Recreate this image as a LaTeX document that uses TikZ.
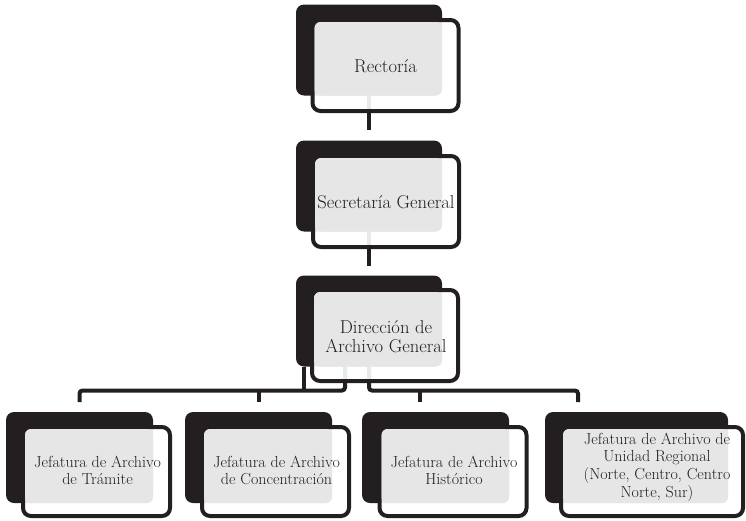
\documentclass[tikz,border=0pt]{standalone}
\usetikzlibrary{calc}
\definecolor{dk}{HTML}{231F20}
\definecolor{lg}{HTML}{E6E6E6}
\pgfdeclarelayer{bg}
\pgfsetlayers{bg,main}
\begin{document}
\begin{tikzpicture}[x=1pt,y=-1pt,
  back/.style={fill=dk, rounded corners=8pt, draw=none, outer sep=0pt, inner sep=0pt},
  front/.style={draw=dk, line width=4pt, fill=white, fill opacity=0.9, rounded corners=8pt, outer sep=0pt, inner sep=0pt},
  innerbox/.style={fill=lg, rounded corners=6pt},
  lbl/.style={text=dk, align=center, inner sep=0pt},
  bigtxt/.style={lbl, font=\fontsize{18.6}{19}\selectfont},
  smalltxt/.style={lbl, font=\fontsize{16}{17.6}\selectfont},
  conn/.style={draw=dk, line width=4pt, rounded corners=3pt},
  topB/.style={back, minimum width=146pt, minimum height=91pt},
  topF/.style={front, minimum width=146pt, minimum height=91pt},
  kidB/.style={back, minimum width=147pt, minimum height=91pt},
  kidF/.style={front, minimum width=147pt, minimum height=89pt}]
\useasboundingbox (0,0) rectangle (746,520);

% Rectoria
\node[topB] (rB) at (369,50) {};
\node[topF] (rF) at (385.5,65.5) {};
\fill[innerbox] ($(rF.north west)+(2,2)$) rectangle (rB.south east);
\node[bigtxt] (r) at ($(rF.center)+(0,1)$) {Rectoría};

% Secretaria
\node[topB] (sB) at (369,186) {};
\node[topF] (sF) at (386,201.5) {};
\fill[innerbox] ($(sF.north west)+(2,2)$) rectangle (sB.south east);
\node[bigtxt] (s) at ($(sF.center)+(0,1)$) {Secretaría General};

% Direccion
\node[topB] (dB) at (369,321) {};
\node[topF] (dF) at (385,335.5) {};
\fill[innerbox] ($(dF.north west)+(2,2)$) rectangle (dB.south east);
\node[bigtxt] (d) at ($(dF.center)+(1,1)$) {Dirección de\\Archivo General};

% Children
\node[kidB] (c1B) at (79.5,457.5) {};
\node[kidF] (c1F) at (96.5,471.5) {};
\fill[innerbox] ($(c1F.north west)+(2,2)$) rectangle (c1B.south east);
\node[smalltxt] (c1) at ($(c1F.center)+(1,-1)$) {Jefatura de Archivo\\de Trámite};

\node[kidB] (c2B) at (258.5,457.5) {};
\node[kidF] (c2F) at (275.5,471.5) {};
\fill[innerbox] ($(c2F.north west)+(2,2)$) rectangle (c2B.south east);
\node[smalltxt] (c2) at ($(c2F.center)+(1,-1)$) {Jefatura de Archivo\\de Concentración};

\node[kidB] (c3B) at (435.5,457.5) {};
\node[kidF] (c3F) at (453,471.5) {};
\fill[innerbox] ($(c3F.north west)+(2,2)$) rectangle (c3B.south east);
\node[smalltxt] (c3) at ($(c3F.center)+(1,-1)$) {Jefatura de Archivo\\Histórico};

\node[back, minimum width=183pt, minimum height=91pt] (c4B) at (636.5,457.5) {};
\node[front, minimum width=182pt, minimum height=89pt] (c4F) at (652,471.5) {};
\fill[innerbox] ($(c4F.north west)+(2,2)$) rectangle (c4B.south east);
\node[smalltxt] (c4) at (657,467) {Jefatura de Archivo de\\Unidad Regional\\(Norte, Centro, Centro\\Norte, Sur)};

% Connectors
\coordinate (busY) at (0,390.5);
\coordinate (t1) at ($(c1B.north)+(0,-10)$);
\coordinate (t2) at ($(c2B.north)+(0,-10)$);
\coordinate (t3) at (420,402);
\coordinate (t4) at (578,402);
\coordinate (ja) at (345,390.5);
\coordinate (jaTop) at (345,367);
\coordinate (jb) at (304,367);
\begin{pgfonlayer}{bg}
\draw[conn] (rB.south) -- ($(sB.north)+(0,-11)$);
\draw[conn] (sB.south) -- ($(dB.north)+(0,-10)$);
\draw[conn] (t1) |- (ja) -- (jaTop);
\draw[conn] (jb) -- (jb |- busY);
\draw[conn] (t2) -- (t2 |- busY);
\draw[conn] (dB.south) |- (t4 |- busY) -- (t4);
\draw[conn] (t3) -- (t3 |- busY);
\end{pgfonlayer}
\end{tikzpicture}
\end{document}
